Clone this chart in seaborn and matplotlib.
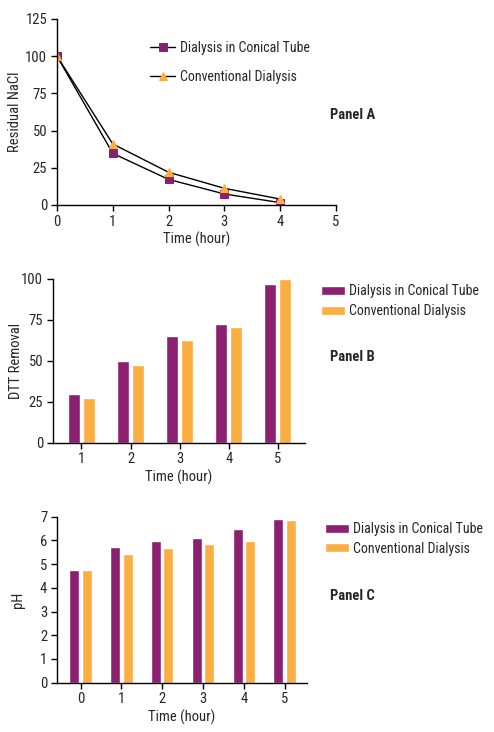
import numpy as np
import pandas as pd
import matplotlib
matplotlib.use('Agg')
import matplotlib.pyplot as plt
import seaborn as sns
from matplotlib import font_manager

sns.set_style('ticks')
names = {f.name for f in font_manager.fontManager.ttflist}
candidates = ['Roboto Condensed', 'Archivo Narrow', 'PT Sans Narrow', 'Fira Sans Condensed',
              'IBM Plex Sans Condensed', 'Liberation Sans Narrow', 'Encode Sans Condensed',
              'Barlow Semi Condensed', 'Open Sans Condensed']
fam = next((c for c in candidates if c in names), 'DejaVu Sans')
plt.rcParams['font.family'] = [fam, 'DejaVu Sans']
plt.rcParams['font.size'] = 10

purple = '#8B2070'
orange = '#FBAE42'
tube = 'Dialysis in Conical Tube'
conv = 'Conventional Dialysis'

# Panel A - residual NaCl
nacl_time = [0, 1, 2, 3, 4]
nacl_tube = [100, 34.7, 17.2, 7.4, 1.6]
nacl_conv = [100, 41, 22, 11.2, 4]

# Panel B - DTT removal
dtt_time = [1, 2, 3, 4, 5]
dtt_tube = [30, 49.6, 65, 72.4, 97]
dtt_conv = [27.4, 47.4, 62.6, 70.5, 100]

# Panel C - pH
ph_time = [0, 1, 2, 3, 4, 5]
ph_tube = [4.74, 5.74, 5.98, 6.12, 6.48, 6.9]
ph_conv = [4.74, 5.41, 5.67, 5.85, 5.98, 6.85]

W, H = 494, 732
fig = plt.figure(figsize=(W / 100, H / 100), dpi=100)

def style(ax):
    sns.despine(ax=ax)
    for s in ax.spines.values():
        s.set_linewidth(1.0)
        s.set_color('black')
    ax.tick_params(direction='out', length=4, width=1, color='black', labelsize=10.5, pad=3)

def legend(ax, x, y, spacing, hh=0.7, hl=1.75, pad=0.3):
    ax.legend(loc='upper left', bbox_to_anchor=(x / W, 1 - y / H), bbox_transform=fig.transFigure,
              frameon=False, borderpad=0, borderaxespad=0, handlelength=hl, handleheight=hh,
              handletextpad=pad, labelspacing=spacing, fontsize=10)

# Panel A
axA = fig.add_axes([57/W, 1-205/H, 279/W, 186/H])
sns.lineplot(x=nacl_time, y=nacl_tube, ax=axA, color='black', lw=1, marker='s',
             markersize=5.5, markerfacecolor=purple, markeredgecolor=purple, label=tube)
sns.lineplot(x=nacl_time, y=nacl_conv, ax=axA, color='black', lw=1, marker='^',
             markersize=6, markerfacecolor=orange, markeredgecolor=orange, label=conv)
axA.set_xlim(0, 5)
axA.set_ylim(0, 125)
axA.set_xticks(range(6))
axA.set_yticks([0, 25, 50, 75, 100, 125])
axA.set_xlabel('Time (hour)', labelpad=2, fontsize=10.5)
axA.set_ylabel('Residual NaCl', fontsize=10.5)
axA.yaxis.set_label_coords(-0.125, 0.5)
style(axA)
legend(axA, 150, 41, 1.05, hh=0.7, hl=1.8, pad=0.35)
fig.text(330/W, 1-115/H, 'Panel A', fontweight='bold', fontsize=10.5, va='center')

def bars(ax, times, a, b, ymax, yt):
    df = pd.DataFrame({'time': times * 2, 'val': a + b,
                       'series': [tube] * len(times) + [conv] * len(times)})
    sns.barplot(data=df, x='time', y='val', hue='series', palette=[purple, orange],
                width=0.61, gap=0.2, saturation=1, ax=ax, legend=True)
    ax.set_ylim(0, ymax)
    ax.set_yticks(yt)
    ax.set_xlim(-0.58, len(times) - 0.45)
    ax.set_xlabel('Time (hour)', labelpad=2, fontsize=10.5)
    style(ax)

# Panel B
axB = fig.add_axes([53/W, 1-442.7/H, 252/W, 164/H])
bars(axB, dtt_time, dtt_tube, dtt_conv, 100, [0, 25, 50, 75, 100])
axB.set_ylabel('DTT Removal', fontsize=10.5)
axB.yaxis.set_label_coords(-0.119, 0.5)
legend(axB, 321, 284, 0.45, hh=0.6)
fig.text(330/W, 1-357/H, 'Panel B', fontweight='bold', fontsize=10.5, va='center')

# Panel C
axC = fig.add_axes([57/W, 1-682.7/H, 250/W, 166/H])
bars(axC, ph_time, ph_tube, ph_conv, 7, list(range(8)))
axC.set_ylabel('pH', fontsize=10.5)
axC.yaxis.set_label_coords(-0.128, 0.5)
legend(axC, 325, 522, 0.4, hh=0.6)
fig.text(330/W, 1-596/H, 'Panel C', fontweight='bold', fontsize=10.5, va='center')

fig.savefig('out.png', dpi=100)
